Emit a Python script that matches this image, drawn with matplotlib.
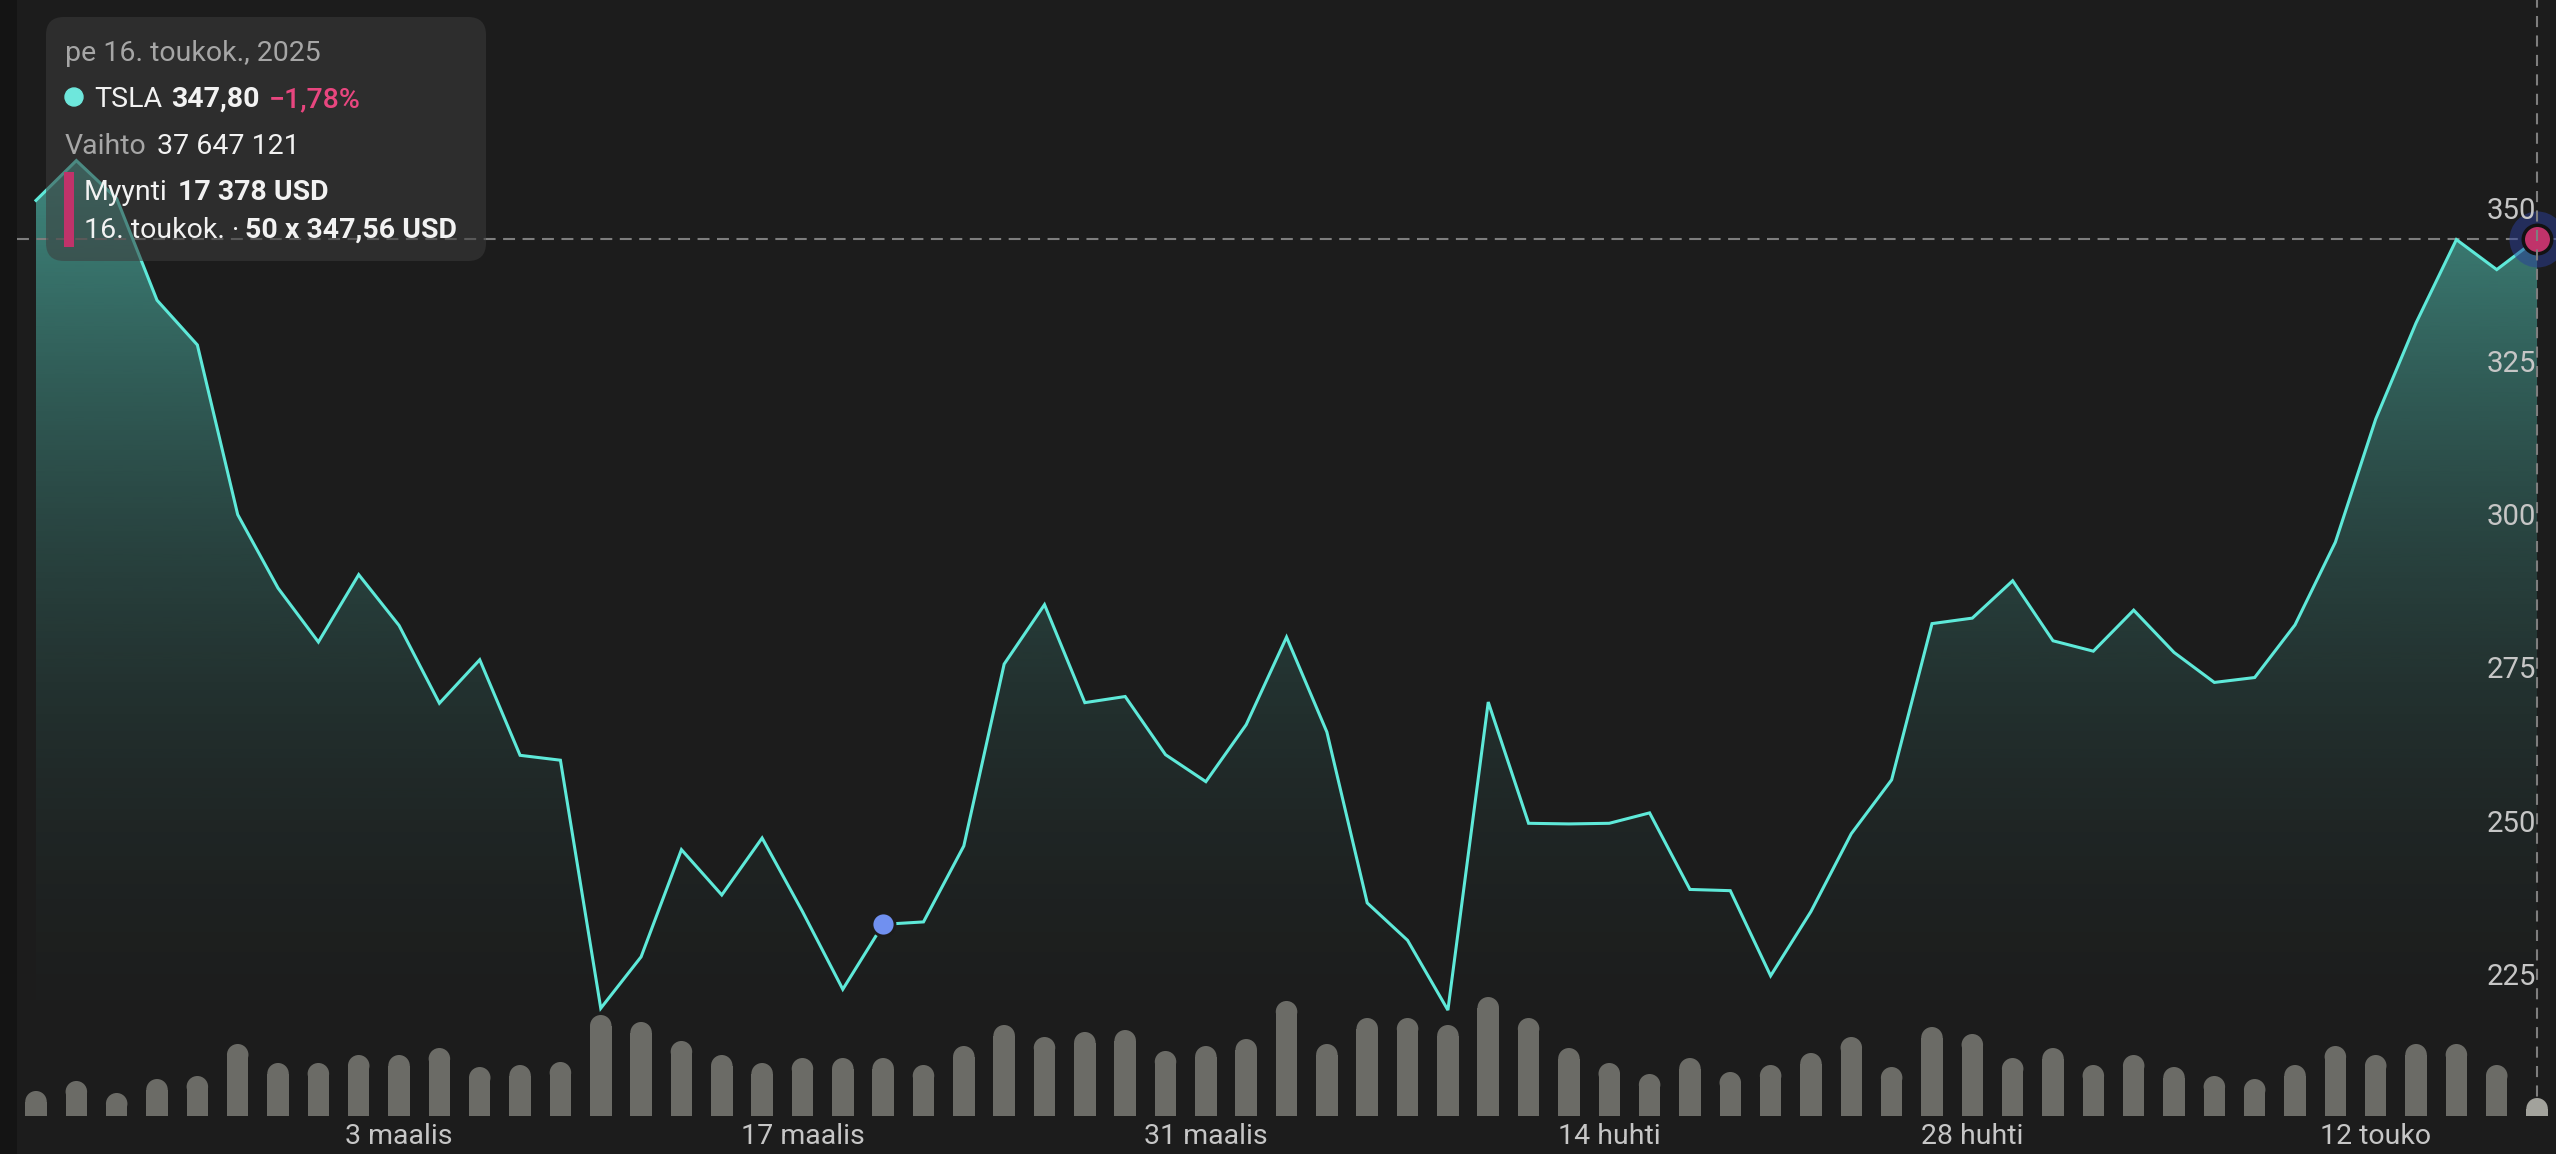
import matplotlib
matplotlib.use("Agg")
import numpy as np
import pandas as pd
import matplotlib.pyplot as plt
from matplotlib.patches import FancyBboxPatch, Rectangle, Circle
from matplotlib import transforms as mtransforms

plt.rcParams['font.family'] = ['Roboto', 'DejaVu Sans']
plt.rcParams['lines.scale_dashes'] = False

# ---------------- data ----------------
dates = pd.bdate_range('2025-02-18', '2025-05-16').drop(pd.Timestamp('2025-04-18'))

prices = [354.1, 360.6, 354.4, 337.8, 330.5, 302.8, 290.8, 282.0, 293.0,
          284.7, 272.0, 279.1, 263.5, 262.7, 222.2, 230.6, 248.1, 240.7, 250.0,
          238.0, 225.3, 235.9, 236.3, 248.7, 278.4, 288.1, 272.1, 273.1, 263.6,
          259.2, 268.5, 282.8, 267.3, 239.4, 233.3, 221.9, 272.2, 252.4, 252.3,
          252.4, 254.1, 241.6, 241.4, 227.5, 238.0, 250.7, 259.5, 285.0, 285.9,
          292.0, 282.2, 280.5, 287.2, 280.3, 275.4, 276.2, 284.8, 298.3, 318.4,
          334.1, 347.7, 342.8, 347.8]

# volume, millions of shares
volumes = [52.3, 73.2, 48.1, 77.3, 83.6, 150.5, 110.8, 110.8, 127.5,
           127.5, 142.1, 102.4, 106.6, 112.9, 211.1, 196.5, 156.8, 127.5, 110.8,
           121.2, 121.2, 121.2, 106.6, 146.3, 190.2, 165.1, 175.6, 179.7, 135.9,
           146.3, 160.9, 240.4, 150.5, 204.8, 204.8, 190.2, 248.7, 204.8, 142.1,
           110.8, 87.8, 121.2, 92.0, 106.6, 131.7, 165.1, 102.4, 186.0, 171.4,
           121.2, 142.1, 106.6, 127.5, 102.4, 83.6, 77.3, 106.6, 146.3, 127.5,
           150.5, 150.5, 106.6, 37.6]

tick_dates = ['2025-03-03', '2025-03-17', '2025-03-31', '2025-04-14', '2025-04-28', '2025-05-12']
tick_labels = ['3 maalis', '17 maalis', '31 maalis', '14 huhti', '28 huhti', '12 touko']
ytick_values = [225, 250, 275, 300, 325, 350]
trade_date = '2025-03-19'

# ---------------- layout / style ----------------
W, H, DPI = 2556, 1154, 100
X0_PX, STEP_PX = 36.0, 40.34          # first point x, spacing between days
Y_REF_V, Y_REF_PX, PX_PER_UNIT = 350.0, 225.5, 6.125
BASE_PX, VOL_PER_PX = 1116.0, 2.09
BAR_PX = 21.5

BG = '#1c1c1c'
LINE = '#5ee9d9'
TEAL = np.array([94, 234, 216]) / 255
GRAY_TXT = '#a6a6a6'
WHITE = '#f2f2f2'
PINK = '#e8467f'
MAGENTA = '#c0336a'
AXIS_TXT = '#c6c6c6'
FS = 20.5

fig = plt.figure(figsize=(W / DPI, H / DPI), dpi=DPI, facecolor=BG)
ax = fig.add_axes([0, 0, 1, 1])
ax.set_facecolor('none')
ax.axis('off')

x = np.arange(len(prices))
p = np.array(prices)
xlim = (-X0_PX / STEP_PX, (W - X0_PX) / STEP_PX)
ylo = Y_REF_V - (H - Y_REF_PX) / PX_PER_UNIT
yhi = Y_REF_V + Y_REF_PX / PX_PER_UNIT

# left dark strip
ax.add_patch(Rectangle((0, 0), 17 / W, 1, transform=ax.transAxes,
                       color='#141414', zorder=0, lw=0))

# gradient area fill
n = 800
vs = np.linspace(yhi, ylo, n)
ypx = Y_REF_PX + (Y_REF_V - vs) * PX_PER_UNIT
alpha = 0.53 * np.clip((BASE_PX - ypx) / 953.0, 0, 1) ** 2
img = np.zeros((n, 1, 4))
img[..., :3] = TEAL
img[..., 3] = alpha[:, None]
im = ax.imshow(img, extent=(x[0], x[-1], ylo, yhi), aspect='auto',
               origin='upper', zorder=1, interpolation='bilinear')
poly = ax.fill_between(x, p, ylo, facecolor='none', edgecolor='none')
im.set_clip_path(poly.get_paths()[0], transform=ax.transData)

# price line
ax.plot(x, p, color=LINE, lw=2.2, zorder=3, solid_joinstyle='miter')

# horizontal dashed line at last price
ax.axhline(p[-1], xmin=17 / W, xmax=1, color='#7e7e7e', lw=1.5,
           linestyle=(0, (8.6, 5.4)), zorder=2)

# trade marker
ti = int(np.where(dates == pd.Timestamp(trade_date))[0][0])
ax.scatter([x[ti]], [p[ti]], s=(23 * 72 / DPI) ** 2, color='#7090f0',
           edgecolors=BG, linewidths=2.0, zorder=6)

# last point marker
ax.scatter([x[-1]], [p[-1]], s=(56 * 72 / DPI) ** 2, color='#2b3f9a',
           alpha=0.5, linewidths=0, zorder=6)
ax.scatter([x[-1]], [p[-1]], s=(28.5 * 72 / DPI) ** 2, color=MAGENTA,
           edgecolors='#121212', linewidths=3.5 * 72 / DPI, zorder=7)

# y labels (inside, right)
off_y = mtransforms.offset_copy(ax.get_yaxis_transform(), fig=fig, x=0, y=6.5 * 72 / DPI, units='points')
for v in ytick_values:
    ax.text(2536 / W, v, f'{v}', transform=off_y, ha='right', va='baseline',
            fontsize=21.2, color=AXIS_TXT, zorder=8)

# x labels
for d, lab in zip(tick_dates, tick_labels):
    i = int(np.where(dates == pd.Timestamp(d))[0][0])
    ax.text(x[i], 1 - 1144 / H, lab, transform=ax.get_xaxis_transform(),
            ha='center', va='baseline', fontsize=FS, color=AXIS_TXT, zorder=8)

ax.set_xlim(*xlim)
ax.set_ylim(ylo, yhi)

# ---------------- volume (axes bottom = bar baseline) ----------------
ax2 = fig.add_axes([0, (H - BASE_PX) / H, 1, BASE_PX / H], sharex=ax)
ax2.set_facecolor('none')
ax2.axis('off')
vol = np.array(volumes)
r_vol = BAR_PX / 2 * VOL_PER_PX
bar_colors = ['#6b6b66'] * (len(vol) - 1) + ['#a2a29c']
ax2.axvline(x[-1], ymin=0, ymax=1, color='#7e7e7e', lw=1.5,
            linestyle=(0, (8.0, 6.0)), zorder=1)
ax2.bar(x, np.maximum(vol - r_vol, 0), width=BAR_PX / STEP_PX, bottom=0,
        color=bar_colors, linewidth=0, zorder=2)
ax2.scatter(x, vol - r_vol, s=(BAR_PX * 72 / DPI) ** 2, c=bar_colors,
            linewidths=0, marker='o', zorder=2, clip_on=True)
ax2.set_ylim(0, BASE_PX * VOL_PER_PX)
ax2.set_xlim(*xlim)

# ---------------- tooltip ----------------
T = fig.dpi_scale_trans
def P(xp, yp):
    return xp / DPI, (H - yp) / DPI

box = FancyBboxPatch(P(46, 261), 440 / DPI, 244 / DPI,
                     boxstyle='round,pad=0,rounding_size=0.18',
                     transform=T, facecolor='#3c3c3c', alpha=0.55, lw=0, zorder=10)
fig.patches.append(box)
fig.patches.append(Circle(P(74, 97), 9 / DPI, transform=T, color='#6ee7dc', zorder=11))
fig.patches.append(Rectangle(P(64, 247), 10 / DPI, 75 / DPI, transform=T,
                             color=MAGENTA, lw=0, zorder=11))

renderer = fig.canvas.get_renderer()

def line(x_start, y_base, parts, gap=10):
    xp = x_start
    for s, color, weight in parts:
        t = fig.text(*P(xp, y_base), s, transform=T, color=color, fontsize=FS,
                     fontweight=weight, ha='left', va='baseline', zorder=12)
        bb = t.get_window_extent(renderer)
        xp = bb.x1 + gap

line(65, 61, [('pe 16. toukok., 2025', GRAY_TXT, 'normal')])
line(94, 107, [('TSLA', WHITE, 'normal'), ('347,80', WHITE, 'bold'),
               ('\u22121,78%', PINK, 'medium')], gap=9)
line(65, 154, [('Vaihto', GRAY_TXT, 'normal'), ('37 647 121', WHITE, 'normal')])
line(84, 200, [('Myynti', WHITE, 'normal'), ('17 378 USD', WHITE, 'bold')])
line(84, 238, [('16. toukok. \u00b7', WHITE, 'normal'), ('50 x 347,56 USD', WHITE, 'bold')], gap=6)

fig.savefig('out.png', dpi=DPI, facecolor=BG)
